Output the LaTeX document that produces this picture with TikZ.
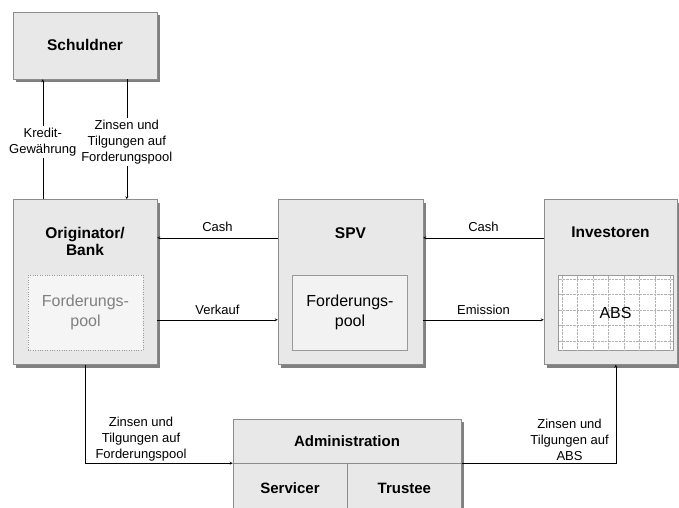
\documentclass[tikz,border=0pt]{standalone}
\usepackage{fontspec}
\setmainfont{Liberation Sans}
\usetikzlibrary{shadows}

\begin{document}
\begin{tikzpicture}[x=1pt, y=-1pt,
        box/.style={rectangle, draw=black!45, fill=black!9, inner sep=0pt,
            drop shadow={opacity=1, fill=black!50, shadow xshift=3pt, shadow yshift=-3pt}},
        title/.style={font=\fontsize{15.5}{17.5}\selectfont\bfseries, align=center},
        lbl/.style={font=\fontsize{13}{16}\selectfont, align=center, inner sep=2pt},
        pooltext/.style={font=\fontsize{16}{20}\selectfont, align=center},
        pool/.style={rectangle, draw=black!40, fill=black!5, minimum width=115pt, minimum height=75pt, inner sep=0pt}]
    \useasboundingbox (0,0) rectangle (679,507);

    % Boxen
    \node[box, minimum width=144pt, minimum height=67pt] (schuldner) at (85,45.5) {};
    \node[box, minimum width=144pt, minimum height=165pt] (orig) at (85,282) {};
    \node[box, minimum width=145pt, minimum height=165pt] (spv) at (350.5,282) {};
    \node[box, minimum width=133pt, minimum height=165pt] (inv) at (610.5,282) {};

    \node[title] (schuldnertitle) at (85,45) {Schuldner};
    \node[title] (origtitle) at (85,241.5) {Originator/\\Bank};
    \node[title] (spvtitle) at (350.5,233) {SPV};
    \node[title] (invtitle) at (610.5,232) {Investoren};

    % Forderungspools
    \node[pool, dotted, fill=black!4] (origpool) at (85.5,312.5) {};
    \node[pooltext, text=black!50] at (origpool) {Forderungs-\\pool};
    \node[pool] (spvpool) at (350,312.5) {};
    \node[pooltext] at (spvpool) {Forderungs-\\pool};
    \node[pool, fill=white] (abs) at (615.5,313) {};
    \foreach \x in {562,577.5,...,671}
        \draw[black!30, densely dotted] (\x,275.5) -- (\x,350.5);
    \foreach \y in {279,294.5,...,345}
        \draw[black!30, densely dotted] (558.5,\y) -- (672.5,\y);
    \node[pooltext] at (abs) {ABS};

    % Administration
    \node[box, minimum width=228pt, minimum height=44pt] (admin) at (347,441) {};
    \node[title, font=\fontsize{15}{17}\selectfont\bfseries] at (admin) {Administration};
    \node[box, minimum width=114pt, minimum height=50pt, anchor=north west] (servicer) at (admin.south west) {};
    \node[box, minimum width=114pt, minimum height=50pt, anchor=north west] (trustee) at (servicer.north east) {};
    \node[title, font=\fontsize{15}{17}\selectfont\bfseries] at (servicer) {Servicer};
    \node[title, font=\fontsize{15}{17}\selectfont\bfseries] at (trustee) {Trustee};

    % Zahlungsstroeme
    \draw[-stealth] ([xshift=30pt]orig.north west) -- node[lbl, fill=white, yshift=-3pt] {Kredit-\\Gewährung} ([xshift=30pt]schuldner.south west);
    \draw[-stealth] ([xshift=114pt]schuldner.south west) -- node[lbl, fill=white, yshift=-3pt] {Zinsen und\\Tilgungen auf\\Forderungspool} ([xshift=114pt]orig.north west);

    \draw[-stealth] ([yshift=-38.5pt]spv.north west) -- node[lbl, above, yshift=4pt] {Cash} ([yshift=-38.5pt]orig.north east);
    \draw[-stealth] ([yshift=-120.5pt]orig.north east) -- node[lbl, above, yshift=3pt] {Verkauf} ([yshift=-120.5pt]spv.north west);
    \draw[-stealth] ([yshift=-38.5pt]inv.north west) -- node[lbl, above, yshift=4pt] {Cash} ([yshift=-38.5pt]spv.north east);
    \draw[-stealth] ([yshift=-120.5pt]spv.north east) -- node[lbl, above, yshift=3pt] {Emission} ([yshift=-120.5pt]inv.north west);

    \draw[-stealth] ([xshift=72pt]orig.south west) |- node[lbl, pos=0.69, above] {Zinsen und\\Tilgungen auf\\Forderungspool} (servicer.north west);
    \draw[-stealth] (trustee.north east) -| node[lbl, pos=0.35, above] {Zinsen und\\Tilgungen auf\\ABS} ([xshift=72pt]inv.south west);
\end{tikzpicture}
\end{document}
